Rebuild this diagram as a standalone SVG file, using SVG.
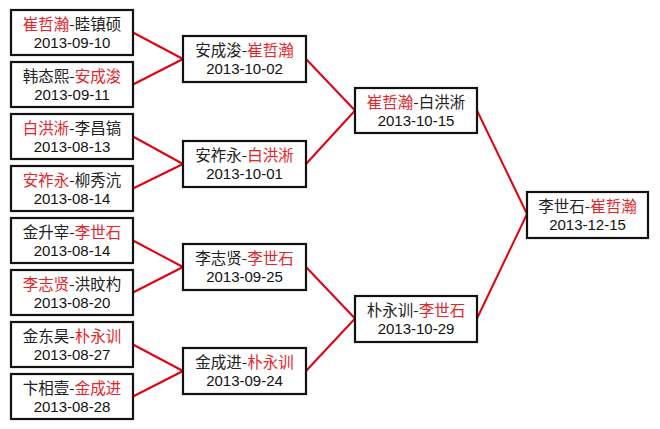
<svg xmlns="http://www.w3.org/2000/svg" width="660" height="429" viewBox="0 0 660 429">
<style>
.box{fill:#fff;stroke:#111;stroke-width:2.2}
.n{font-family:"Noto Sans CJK SC","Liberation Sans",sans-serif;font-size:15.5px;fill:#222;text-anchor:middle}
.d{font-family:"Liberation Sans","DejaVu Sans",sans-serif;font-size:15px;fill:#111;text-anchor:middle}
.r{fill:#e8232b}
.c line{stroke:#e00010;stroke-width:2}
</style>
<rect width="660" height="429" fill="#fff"/>
<g class="c" id="connectors">
<line x1="133" y1="32.5" x2="183" y2="59"/>
<line x1="133" y1="84.5" x2="183" y2="59"/>
<line x1="133" y1="136.5" x2="183" y2="164"/>
<line x1="133" y1="188.5" x2="183" y2="164"/>
<line x1="133" y1="240.5" x2="183" y2="267"/>
<line x1="133" y1="292.5" x2="183" y2="267"/>
<line x1="133" y1="344.5" x2="183" y2="371"/>
<line x1="133" y1="396.5" x2="183" y2="371"/>
<line x1="306" y1="59" x2="355" y2="110.5"/>
<line x1="306" y1="164" x2="355" y2="110.5"/>
<line x1="306" y1="267" x2="355" y2="318.5"/>
<line x1="306" y1="371" x2="355" y2="318.5"/>
<line x1="477" y1="110.5" x2="527" y2="214"/>
<line x1="477" y1="318.5" x2="527" y2="214"/>
</g>
<g id="r1a"><rect class="box" x="11" y="10" width="122" height="45"/><text class="n" x="72" y="30"><tspan class="r">崔哲瀚</tspan>-睦镇硕</text><text class="d" x="72" y="48">2013-09-10</text></g>
<g id="r1b"><rect class="box" x="11" y="62" width="122" height="45"/><text class="n" x="72" y="82">韩态熙-<tspan class="r">安成浚</tspan></text><text class="d" x="72" y="100">2013-09-11</text></g>
<g id="r1c"><rect class="box" x="11" y="114" width="122" height="45"/><text class="n" x="72" y="134"><tspan class="r">白洪淅</tspan>-李昌镐</text><text class="d" x="72" y="152">2013-08-13</text></g>
<g id="r1d"><rect class="box" x="11" y="166" width="122" height="45"/><text class="n" x="72" y="186"><tspan class="r">安祚永</tspan>-柳秀沆</text><text class="d" x="72" y="204">2013-08-14</text></g>
<g id="r1e"><rect class="box" x="11" y="218" width="122" height="45"/><text class="n" x="72" y="238">金升宰-<tspan class="r">李世石</tspan></text><text class="d" x="72" y="256">2013-08-14</text></g>
<g id="r1f"><rect class="box" x="11" y="270" width="122" height="45"/><text class="n" x="72" y="290"><tspan class="r">李志贤</tspan>-洪旼杓</text><text class="d" x="72" y="308">2013-08-20</text></g>
<g id="r1g"><rect class="box" x="11" y="322" width="122" height="45"/><text class="n" x="72" y="342">金东昊-<tspan class="r">朴永训</tspan></text><text class="d" x="72" y="360">2013-08-27</text></g>
<g id="r1h"><rect class="box" x="11" y="374" width="122" height="45"/><text class="n" x="72" y="394">卞相壹-<tspan class="r">金成进</tspan></text><text class="d" x="72" y="412">2013-08-28</text></g>
<g id="r2a"><rect class="box" x="183" y="36" width="123" height="46"/><text class="n" x="244.5" y="56">安成浚-<tspan class="r">崔哲瀚</tspan></text><text class="d" x="244.5" y="74">2013-10-02</text></g>
<g id="r2b"><rect class="box" x="183" y="141" width="123" height="46"/><text class="n" x="244.5" y="161">安祚永-<tspan class="r">白洪淅</tspan></text><text class="d" x="244.5" y="179">2013-10-01</text></g>
<g id="r2c"><rect class="box" x="183" y="244" width="123" height="46"/><text class="n" x="244.5" y="264">李志贤-<tspan class="r">李世石</tspan></text><text class="d" x="244.5" y="282">2013-09-25</text></g>
<g id="r2d"><rect class="box" x="183" y="348" width="123" height="46"/><text class="n" x="244.5" y="368">金成进-<tspan class="r">朴永训</tspan></text><text class="d" x="244.5" y="386">2013-09-24</text></g>
<g id="r3a"><rect class="box" x="355" y="88" width="122" height="45"/><text class="n" x="416" y="108"><tspan class="r">崔哲瀚</tspan>-白洪淅</text><text class="d" x="416" y="126">2013-10-15</text></g>
<g id="r3b"><rect class="box" x="355" y="296" width="122" height="46"/><text class="n" x="416" y="316">朴永训-<tspan class="r">李世石</tspan></text><text class="d" x="416" y="334">2013-10-29</text></g>
<g id="final"><rect class="box" x="527" y="192" width="121" height="46"/><text class="n" x="587.5" y="212">李世石-<tspan class="r">崔哲瀚</tspan></text><text class="d" x="587.5" y="230">2013-12-15</text></g>
</svg>
